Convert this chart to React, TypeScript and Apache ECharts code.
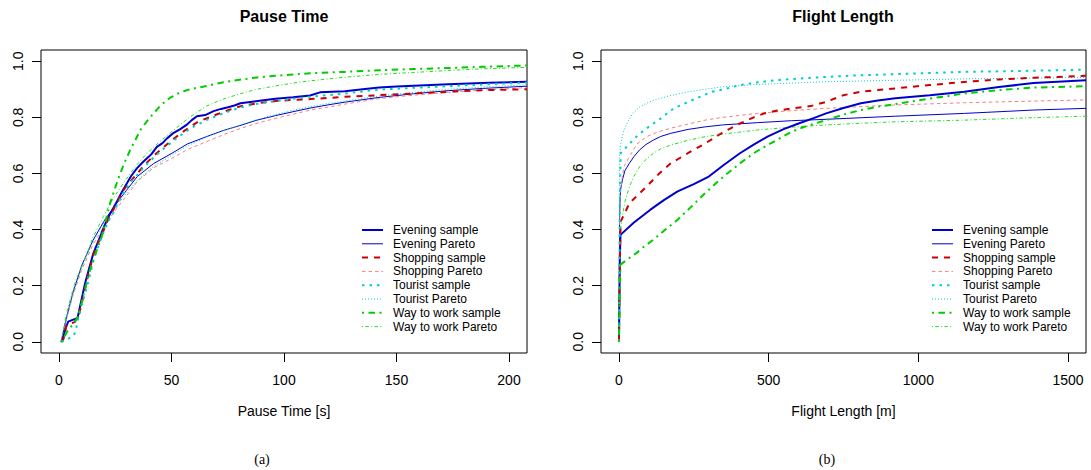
import React, { useEffect, useRef } from "react";
import * as echarts from "echarts";

const seriesNames = [
  "Evening sample",
  "Evening Pareto",
  "Shopping sample",
  "Shopping Pareto",
  "Tourist sample",
  "Tourist Pareto",
  "Way to work sample",
  "Way to work Pareto",
];

const yTicks = [0, 0.2, 0.4, 0.6, 0.8, 1.0];
const pauseTicks = [0, 50, 100, 150, 200];
const flightTicks = [0, 500, 1000, 1500];

// ---- Pause time CDFs: [seconds, probability]
const pauseEveningSample = [
  [1, 0], [1.6, 0.007], [3, 0.05], [4.1, 0.072], [6, 0.078], [8.2, 0.084], [10, 0.15], [11.6, 0.209],
  [13.5, 0.265], [15.3, 0.316], [18.3, 0.375], [20, 0.41], [22, 0.446], [25.7, 0.499], [28, 0.535],
  [30.2, 0.565], [32, 0.59], [34.6, 0.618], [37, 0.638], [39.1, 0.654], [41, 0.668], [43.5, 0.695],
  [46, 0.708], [48, 0.725], [51, 0.745], [53.9, 0.758], [57, 0.775], [59, 0.79], [61.3, 0.804],
  [65, 0.808], [68.7, 0.822], [72, 0.83], [74.7, 0.835], [78, 0.842], [80.6, 0.85], [85, 0.855],
  [90, 0.86], [96.2, 0.866], [104, 0.872], [111.6, 0.878], [116, 0.889], [127, 0.893], [135, 0.9],
  [142.3, 0.906], [150, 0.91], [157.6, 0.913], [173, 0.918], [191, 0.923], [208, 0.927],
];
const pauseEveningPareto = [
  [1, 0], [3, 0.075], [6, 0.17], [10, 0.27], [15, 0.36], [20, 0.43], [25.6, 0.494], [30, 0.54],
  [34.8, 0.589], [42, 0.635], [50.2, 0.672], [57, 0.705], [65.5, 0.731], [73, 0.753], [80.9, 0.772],
  [88, 0.79], [96.2, 0.806], [104, 0.82], [111.6, 0.833], [120, 0.845], [127, 0.854], [142.3, 0.871],
  [157.6, 0.884], [173, 0.895], [188.3, 0.903], [208, 0.911],
];
const pauseShoppingSample = [
  [1, 0], [2, 0.01], [3.4, 0.062], [5, 0.065], [7, 0.07], [9, 0.1], [10.8, 0.161], [13, 0.24],
  [15.3, 0.31], [17, 0.345], [19.5, 0.39], [22, 0.44], [24.1, 0.47], [26, 0.5], [28.7, 0.541],
  [31, 0.565], [34.8, 0.6], [38, 0.63], [42.5, 0.666], [46, 0.69], [50.2, 0.719], [55, 0.748],
  [59.4, 0.772], [62, 0.785], [65.5, 0.796], [70, 0.81], [75, 0.825], [80.9, 0.84], [88, 0.85],
  [96.2, 0.858], [104, 0.862], [111.6, 0.865], [127, 0.873], [142.3, 0.879], [157.6, 0.885],
  [173, 0.891], [188.3, 0.897], [208, 0.9],
];
const pauseShoppingPareto = [
  [1, 0], [3, 0.07], [6, 0.16], [10, 0.255], [15, 0.345], [20, 0.41], [25.6, 0.475], [30, 0.52],
  [34.8, 0.571], [42, 0.62], [50.2, 0.654], [57, 0.685], [65.5, 0.713], [73, 0.738], [80.9, 0.761],
  [88, 0.779], [96.2, 0.796], [104, 0.811], [111.6, 0.826], [120, 0.837], [127, 0.847],
  [142.3, 0.867], [157.6, 0.879], [173, 0.889], [188.3, 0.897], [208, 0.906],
];
const pauseTouristSample = [
  [1, 0], [3, 0.005], [5, 0.015], [6.4, 0.019], [7.5, 0.04], [8.6, 0.09], [10, 0.13], [11.6, 0.17],
  [13.5, 0.23], [15.3, 0.29], [17, 0.33], [19.5, 0.385], [22, 0.43], [24.1, 0.46], [26, 0.49],
  [28.7, 0.53], [31, 0.56], [34.8, 0.595], [38, 0.625], [42.5, 0.66], [46, 0.685], [50.2, 0.712],
  [55, 0.742], [59.4, 0.765], [65.5, 0.79], [70, 0.805], [75, 0.82], [80.9, 0.836], [88, 0.848],
  [96.2, 0.858], [104, 0.866], [111.6, 0.873], [127, 0.885], [142.3, 0.899], [157.6, 0.905],
  [173, 0.911], [188.3, 0.917], [208, 0.924],
];
const pauseTouristPareto = [
  [1, 0], [3, 0.07], [6, 0.165], [10, 0.265], [15, 0.355], [20, 0.425], [25.6, 0.485], [30, 0.53],
  [34.8, 0.575], [42, 0.625], [50.2, 0.665], [57, 0.698], [65.5, 0.729], [73, 0.752], [80.9, 0.773],
  [88, 0.792], [96.2, 0.81], [104, 0.825], [111.6, 0.838], [120, 0.85], [127, 0.858], [142.3, 0.876],
  [157.6, 0.889], [173, 0.9], [188.3, 0.908], [208, 0.916],
];
const pauseWorkSample = [
  [1, 0], [2.5, 0.02], [4.1, 0.043], [6, 0.06], [8.6, 0.09], [11, 0.17], [13.8, 0.256], [16.5, 0.32],
  [19, 0.375], [22.7, 0.494], [25, 0.55], [27.2, 0.6], [29.5, 0.645], [31.6, 0.683], [34, 0.72],
  [36.1, 0.754], [39, 0.785], [42, 0.814], [45.5, 0.845], [49.4, 0.87], [53, 0.885], [56.9, 0.897],
  [61, 0.905], [65.8, 0.912], [70, 0.92], [74.7, 0.927], [80.9, 0.935], [88, 0.942], [96.2, 0.948],
  [104, 0.953], [111.6, 0.957], [127, 0.962], [142.3, 0.968], [157.6, 0.972], [173, 0.976],
  [188.3, 0.98], [208, 0.985],
];
const pauseWorkPareto = [
  [1, 0], [3, 0.09], [6, 0.18], [8, 0.23], [10.8, 0.28], [15, 0.37], [19.7, 0.446], [24, 0.51],
  [28.6, 0.565], [34, 0.625], [39.1, 0.672], [45, 0.715], [50.9, 0.754], [58, 0.8], [65.5, 0.84],
  [73, 0.865], [80.9, 0.885], [88, 0.9], [96.2, 0.912], [104, 0.922], [111.6, 0.93], [127, 0.943],
  [142.3, 0.953], [157.6, 0.96], [173, 0.967], [188.3, 0.973], [208, 0.978],
];

// ---- Flight length CDFs: [metres, probability]
const flightEveningSample = [
  [0, 0], [3, 0.3], [5, 0.381], [50, 0.425], [104, 0.47], [150, 0.505], [196, 0.536], [250, 0.562],
  [300, 0.589], [350, 0.63], [404, 0.672], [450, 0.703], [496, 0.731], [550, 0.758], [600, 0.778],
  [650, 0.797], [692, 0.814], [750, 0.833], [808, 0.85], [865, 0.86], [923, 0.868], [1038, 0.879],
  [1154, 0.891], [1269, 0.908], [1385, 0.922], [1560, 0.932],
];
const flightEveningPareto = [
  [1, 0], [2, 0.45], [5, 0.54], [11.5, 0.577], [20, 0.61], [34.6, 0.636], [50, 0.66], [69, 0.684],
  [90, 0.703], [115, 0.719], [140, 0.732], [173, 0.743], [231, 0.757], [288, 0.766], [346, 0.773],
  [462, 0.781], [577, 0.788], [692, 0.793], [923, 0.804], [1154, 0.814], [1385, 0.826], [1560, 0.832],
];
const flightShoppingSample = [
  [0, 0], [3, 0.3], [5.8, 0.429], [20, 0.46], [35, 0.494], [60, 0.52], [92, 0.553], [130, 0.595],
  [173, 0.636], [230, 0.672], [288, 0.707], [345, 0.745], [404, 0.778], [450, 0.8], [485, 0.814],
  [530, 0.824], [577, 0.832], [640, 0.84], [692, 0.855], [750, 0.879], [808, 0.891], [865, 0.897],
  [923, 0.903], [1038, 0.915], [1154, 0.926], [1269, 0.935], [1385, 0.941], [1560, 0.948],
];
const flightShoppingPareto = [
  [1, 0], [2, 0.4], [5, 0.53], [10, 0.58], [17, 0.625], [35, 0.66], [60, 0.705], [92, 0.731],
  [130, 0.748], [173, 0.761], [230, 0.776], [288, 0.79], [346, 0.8], [462, 0.814], [577, 0.824],
  [692, 0.832], [808, 0.838], [923, 0.844], [1154, 0.852], [1385, 0.858], [1560, 0.862],
];
const flightTouristSample = [
  [0, 0], [3, 0.5], [5.8, 0.672], [30, 0.7], [58, 0.731], [85, 0.755], [115, 0.778], [145, 0.8],
  [173, 0.825], [200, 0.84], [231, 0.855], [270, 0.873], [311, 0.891], [350, 0.9], [404, 0.915],
  [460, 0.924], [519, 0.932], [600, 0.938], [692, 0.944], [808, 0.95], [923, 0.954], [1038, 0.958],
  [1154, 0.962], [1385, 0.966], [1560, 0.97],
];
const flightTouristPareto = [
  [1, 0], [1.5, 0.654], [5.8, 0.706], [12, 0.735], [17, 0.755], [30, 0.785], [46, 0.814], [70, 0.838],
  [92, 0.85], [115, 0.861], [170, 0.877], [231, 0.891], [288, 0.9], [346, 0.909], [462, 0.917],
  [577, 0.922], [692, 0.927], [923, 0.932], [1154, 0.937], [1385, 0.94], [1560, 0.942],
];
const flightWorkSample = [
  [0, 0], [3, 0.2], [5, 0.275], [30, 0.295], [58, 0.316], [85, 0.34], [115, 0.364], [155, 0.4],
  [196, 0.435], [240, 0.48], [288, 0.53], [345, 0.585], [404, 0.636], [450, 0.672], [496, 0.701],
  [540, 0.727], [577, 0.749], [630, 0.77], [692, 0.79], [750, 0.81], [808, 0.826], [865, 0.838],
  [923, 0.847], [980, 0.857], [1038, 0.867], [1100, 0.876], [1154, 0.885], [1269, 0.897],
  [1385, 0.906], [1560, 0.911],
];
const flightWorkPareto = [
  [1, 0], [2, 0.3], [5, 0.4], [11.5, 0.447], [20, 0.5], [35, 0.553], [50, 0.59], [69, 0.624],
  [90, 0.65], [115, 0.672], [140, 0.688], [173, 0.701], [230, 0.718], [288, 0.731], [346, 0.74],
  [462, 0.755], [577, 0.765], [692, 0.773], [808, 0.779], [923, 0.784], [1154, 0.79], [1385, 0.799],
  [1560, 0.804],
];

const pauseData = [
  pauseEveningSample, pauseEveningPareto, pauseShoppingSample, pauseShoppingPareto,
  pauseTouristSample, pauseTouristPareto, pauseWorkSample, pauseWorkPareto,
];
const flightData = [
  flightEveningSample, flightEveningPareto, flightShoppingSample, flightShoppingPareto,
  flightTouristSample, flightTouristPareto, flightWorkSample, flightWorkPareto,
];

const lineStyles: any[] = [
  { color: "#0000CD", width: 2, type: "solid" },
  { color: "#0000CD", width: 1, type: "solid" },
  { color: "#CD0000", width: 2, type: [6, 6] },
  { color: "#F08080", width: 1, type: [3.5, 3] },
  { color: "#00CDCD", width: 2, type: [2.5, 5] },
  { color: "#00CDCD", width: 1, type: [1, 2] },
  { color: "#00CD00", width: 2, type: [2, 4.5, 6.5, 4.5] },
  { color: "#22DD22", width: 1, type: [1, 2.3, 3.5, 2.3] },
];

const SANS = "'Liberation Sans', Arial, Helvetica, sans-serif";
const SERIF = "'Liberation Serif', 'Times New Roman', serif";

function xAxisFor(grid: number, min: number, max: number, ticks: number[], name: string) {
  return {
    type: "value",
    gridIndex: grid,
    min,
    max,
    axisLine: { show: false, onZero: false },
    splitLine: { show: false },
    axisTick: { show: true, length: 9, customValues: ticks, lineStyle: { color: "#000", width: 1 } },
    axisLabel: {
      customValues: ticks,
      margin: 20,
      fontSize: 14,
      color: "#000",
      fontFamily: SANS,
      formatter: (v: number) => String(v),
    },
    name,
    nameLocation: "middle",
    nameGap: 51,
    nameTextStyle: { fontSize: 14, color: "#000", fontFamily: SANS },
  };
}

function yAxisFor(grid: number) {
  return {
    type: "value",
    gridIndex: grid,
    min: -0.04,
    max: 1.04,
    axisLine: { show: false, onZero: false },
    splitLine: { show: false },
    axisTick: { show: true, length: 9, customValues: yTicks, lineStyle: { color: "#000", width: 1 } },
    axisLabel: {
      customValues: yTicks,
      rotate: 90,
      margin: 16,
      fontSize: 14,
      color: "#000",
      fontFamily: SANS,
      formatter: (v: number) => v.toFixed(1),
    },
  };
}

function legendFor(left: number) {
  return {
    orient: "vertical",
    left,
    top: 224,
    padding: 0,
    itemWidth: 21,
    itemHeight: 12,
    itemGap: 1.8,
    selectedMode: false,
    data: seriesNames,
    lineStyle: { width: "inherit" },
    itemStyle: { opacity: 0 },
    textStyle: { fontSize: 12, lineHeight: 12, color: "#000", fontFamily: SANS, padding: [0, 0, 0, 5] },
  };
}

export default function App() {
  const ref = useRef<HTMLDivElement>(null);
  useEffect(() => {
    if (!ref.current) return;
    const chart = echarts.init(ref.current, null, { renderer: "svg" });
    const series: any[] = [];
    [pauseData, flightData].forEach((panel, gi) => {
      panel.forEach((d, i) => {
        series.push({
          type: "line",
          name: seriesNames[i],
          xAxisIndex: gi,
          yAxisIndex: gi,
          data: d,
          symbol: "none",
          showSymbol: false,
          clip: true,
          silent: true,
          lineStyle: lineStyles[i],
          itemStyle: { color: lineStyles[i].color },
          z: 2 + (i % 2 === 0 ? 1 : 0),
        });
      });
    });
    chart.setOption({
      animation: false,
      backgroundColor: "#fff",
      grid: [
        { left: 41, top: 50, width: 486, height: 303, show: true, borderColor: "#000", borderWidth: 1, containLabel: false, outerBoundsMode: "none" },
        { left: 601, top: 50, width: 485, height: 303, show: true, borderColor: "#000", borderWidth: 1, containLabel: false, outerBoundsMode: "none" },
      ],
      xAxis: [
        xAxisFor(0, -8, 208, pauseTicks, "Pause Time [s]"),
        xAxisFor(1, -60, 1560, flightTicks, "Flight Length [m]"),
      ],
      yAxis: [yAxisFor(0), yAxisFor(1)],
      legend: [legendFor(361), legendFor(931)],
      graphic: [
        { type: "text", x: 284, y: 16, style: { text: "Pause Time", fontSize: 16, fontWeight: "bold", fontFamily: SANS, fill: "#000", align: "center", verticalAlign: "middle", textAlign: "center", textVerticalAlign: "middle" } },
        { type: "text", x: 843, y: 16, style: { text: "Flight Length", fontSize: 16, fontWeight: "bold", fontFamily: SANS, fill: "#000", align: "center", verticalAlign: "middle", textAlign: "center", textVerticalAlign: "middle" } },
        { type: "text", x: 262, y: 459, style: { text: "(a)", fontSize: 14, fontFamily: SERIF, fill: "#000", align: "center", verticalAlign: "middle", textAlign: "center", textVerticalAlign: "middle" } },
        { type: "text", x: 827, y: 459, style: { text: "(b)", fontSize: 14, fontFamily: SERIF, fill: "#000", align: "center", verticalAlign: "middle", textAlign: "center", textVerticalAlign: "middle" } },
      ],
      series,
    });
    return () => chart.dispose();
  }, []);
  return <div ref={ref} style={{ position: "absolute", left: 0, top: 0, width: 1091, height: 470 }} />;
}
